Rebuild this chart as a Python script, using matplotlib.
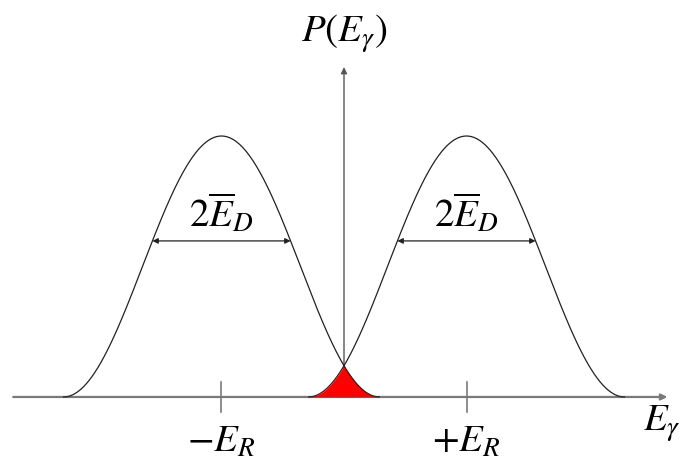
import numpy as np
import matplotlib
matplotlib.use("Agg")
import matplotlib.pyplot as plt

plt.rcParams['mathtext.fontset'] = 'stix'
plt.rcParams['font.family'] = ['STIXGeneral', 'DejaVu Serif']

# peak positions (units of E_R), height and support half-width of each line
peak_centers = [-1.0, 1.0]
peak_height = 1.0
peak_support = 1.29
arrow_level = 0.598          # where the 2E_D width arrows sit
tick_labels = [r'$-E_R$', r'$+E_R$']
width_label = r'$2\overline{E}_D$'
xlabel = r'$E_\gamma$'
ylabel = r'$P(E_\gamma)$'


def line_shape(x, c):
    # raised cosine profile, zero outside +-support
    d = np.abs(x - c)
    y = peak_height * 0.5 * (1 + np.cos(np.pi * d / peak_support))
    y[d > peak_support] = 0
    return y


fig = plt.figure(figsize=(6.82, 4.64), dpi=100)
ax = fig.add_axes([0, 0, 1, 1])
ax.set_xlim(-2.808, 2.759)
ax.set_ylim(-0.253, 1.525)
ax.axis('off')

axis_col = '#7a7a7a'
fs = 28

# horizontal axis
ax.annotate('', xy=(2.64, 0), xytext=(-2.70, 0),
            arrowprops=dict(arrowstyle='-|>', color=axis_col, lw=1.6,
                            mutation_scale=9, shrinkA=0, shrinkB=0))
# vertical axis
ax.annotate('', xy=(0, 1.264), xytext=(0, 0),
            arrowprops=dict(arrowstyle='-|>', color='#555555', lw=1.0,
                            mutation_scale=9, shrinkA=0, shrinkB=0))

# ticks
for c in peak_centers:
    ax.plot([c, c], [-0.057, 0.057], color=axis_col, lw=1.2)

x = np.linspace(-2.5, 2.5, 2000)
curves = [line_shape(x, c) for c in peak_centers]
for c, y in zip(peak_centers, curves):
    m = np.abs(x - c) <= peak_support
    ax.plot(x[m], y[m], color='#222222', lw=0.9, zorder=4)

# overlap region, drawn over the vertical axis
overlap = np.minimum(curves[0], curves[1])
ax.fill_between(x, 0, overlap, where=overlap > 0, color='#ff0000', lw=0,
                zorder=3)

# width arrows
half = peak_support / np.pi * np.arccos(2 * arrow_level / peak_height - 1)
for c in peak_centers:
    ax.annotate('', xy=(c + half, arrow_level), xytext=(c - half, arrow_level),
                arrowprops=dict(arrowstyle='<|-|>', color='#222222', lw=0.9,
                                mutation_scale=8, shrinkA=0, shrinkB=0))
    ax.text(c, arrow_level + 0.025, width_label, fontsize=fs,
            ha='center', va='bottom')

# labels
for c, lab in zip(peak_centers, tick_labels):
    ax.text(c, -0.105, lab, fontsize=fs, ha='center', va='top')
ax.text(0.0, 1.395, ylabel, fontsize=fs, ha='center', va='center')
ax.text(2.745, -0.02, xlabel, fontsize=fs, ha='right', va='top')

fig.savefig('out.png', dpi=100)
